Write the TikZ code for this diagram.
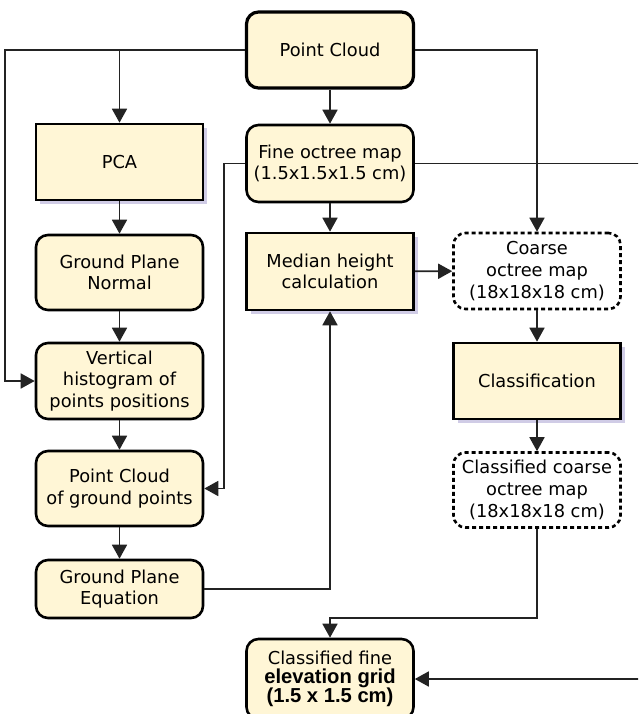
\documentclass[tikz,border=0pt]{standalone}
\usepackage{fontspec}
\setmainfont{DejaVu Sans}
\newfontfamily\libsans{Liberation Sans}
\usetikzlibrary{arrows.meta,shadows}
\definecolor{boxfill}{RGB}{255,246,214}
\definecolor{shade}{RGB}{208,204,230}
\definecolor{wire}{RGB}{35,35,35}
\newcommand\tightlines{\setlength{\lineskiplimit}{-30pt}\setlength{\lineskip}{0pt}}
\newcommand\boldline[1]{{\fontsize{20.2}{19}\selectfont\libsans\bfseries #1}}
\begin{document}
\begin{tikzpicture}[x=1pt,y=-1pt,
  font=\fontsize{17.8}{21.7}\selectfont,
  base/.style={draw=black, line width=2.6pt, fill=boxfill, align=center, inner sep=0pt,
    minimum width=167pt, minimum height=76pt},
  rbox/.style={base, rounded corners=12pt},
  sbox/.style={base, drop shadow={shadow xshift=4pt, shadow yshift=-4pt, fill=shade, opacity=1}},
  dbox/.style={base, fill=white, rounded corners=12pt, dash pattern=on 4pt off 3pt},
  conn/.style={draw=wire, line width=1.7pt},
  arr/.style={conn, -{Triangle[length=14pt,width=15pt]}},
]
\useasboundingbox (0,0) rectangle (638,714);
\clip (0,0) rectangle (638,714);

% left column
\node[rbox, line width=3.2pt] (pc) at (330,50) {Point Cloud};
\node[sbox] (pca) at (119.5,162) {PCA};
\node[rbox, minimum height=75pt] (gpn) at (119.5,272.5) {Ground Plane\\Normal};
\node[rbox] (vh) at (119.5,381) {Vertical\\histogram of\\points positions};
\node[rbox, minimum height=75pt] (pcgp) at (119.5,488.5) {Point Cloud\\of ground points};
\node[rbox, minimum height=58pt] (gpe) at (119.5,589) {Ground Plane\\Equation};

% middle column
\node[rbox, minimum height=77pt] (fom) at (330,163.5) {Fine octree map\\(1.5x1.5x1.5 cm)};
\node[sbox, minimum height=77pt] (med) at (330,271.5) {Median height\\calculation};
\node[rbox, minimum height=80pt, font=\fontsize{17.8}{19}\selectfont\tightlines] (cfine) at (330,679)
  {Classified fine\\\boldline{elevation grid}\\\boldline{(1.5 x 1.5 cm)}};

% right column
\node[dbox] (coarse) at (537,271) {Coarse\\octree map\\(18x18x18 cm)};
\node[sbox] (cls) at (537,381) {Classification};
\node[dbox, minimum height=75pt] (ccoarse) at (537,490) {Classified coarse\\octree map\\(18x18x18 cm)};

% connectors
\draw[arr] (pc.west) -- ++(-240,0) |- (vh.west);
\draw[arr] (pca.north |- pc.west) -- (pca.north);
\draw[arr] (pc.south) -- (fom.north);
\draw[arr] (pc.east) -| (coarse.north);
\draw[arr] (pca) -- (gpn);
\draw[arr] (gpn) -- (vh);
\draw[arr] (vh) -- (pcgp);
\draw[arr] (pcgp) -- (gpe);
\draw[arr] (fom.west) -- ++(-21,0) |- (pcgp.east);
\draw[arr] (fom.east) -- ++(240,0) |- (cfine.east);
\draw[arr] (fom) -- (med);
\draw[arr] (med) -- (coarse);
\draw[arr] (gpe.east) -| (med.south);
\draw[arr] (coarse) -- (cls);
\draw[arr] (cls) -- (ccoarse);
\draw[arr] (ccoarse.south) -- ++(0,89.5) -| (cfine.north);
\end{tikzpicture}
\end{document}
